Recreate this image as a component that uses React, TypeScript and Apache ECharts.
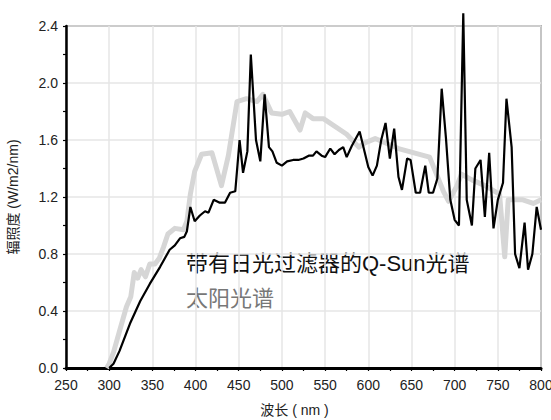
import React, { useEffect, useRef } from "react";
import * as echarts from "echarts";

const qsunWavelengths = [
  300, 305, 312, 324, 336, 347, 359, 370, 376, 382, 387, 390, 394, 399, 405, 411, 415, 421, 428, 434,
  440, 446, 451, 455, 460, 464, 470, 475, 480, 485, 489, 494, 500, 506, 513, 519, 525, 531, 536, 540,
  546, 550, 556, 561, 566, 571, 575, 581, 590, 596, 600, 605, 610, 615, 620, 625, 630, 635, 639, 645,
  649, 655, 660, 666, 670, 675, 680, 685, 690, 695, 700, 705, 710, 714, 720, 724, 730, 735, 740, 745,
  750, 756, 760, 766, 770, 775, 781, 785, 790, 795, 800,
];
const qsunValues = [
  0.0, 0.03, 0.12, 0.31, 0.47, 0.59, 0.71, 0.83, 0.86, 0.91, 0.92, 0.96, 1.13, 1.03, 1.07, 1.1, 1.09, 1.18, 1.16, 1.16,
  1.23, 1.24, 1.6, 1.37, 1.52, 2.2, 1.6, 1.45, 1.92, 1.55, 1.52, 1.44, 1.42, 1.45, 1.46, 1.46, 1.47, 1.49, 1.49, 1.52,
  1.49, 1.48, 1.54, 1.5, 1.53, 1.55, 1.48, 1.56, 1.66, 1.51, 1.41, 1.35, 1.42, 1.6, 1.72, 1.47, 1.68, 1.34, 1.25, 1.47,
  1.46, 1.23, 1.23, 1.42, 1.23, 1.23, 1.33, 1.96, 1.61, 1.18, 1.04, 1.0, 2.49, 1.18, 1.0, 1.4, 1.46, 1.06, 1.51, 0.98,
  1.18, 1.3, 1.89, 1.55, 0.8, 0.7, 1.02, 0.69, 0.8, 1.13, 0.97,
];

const sunWavelengths = [
  297, 300, 305, 312, 320, 325, 329, 333, 337, 342, 347, 353, 358, 363, 368, 376, 386, 390, 394, 399,
  407, 419, 430, 438, 448, 459, 471, 478, 488, 500, 509, 521, 527, 536, 548, 575, 589, 596, 608, 635,
  671, 687, 693, 702, 708, 720, 735, 752, 758, 762, 779, 791, 800,
];
const sunValues = [
  0.0, 0.03, 0.11, 0.26, 0.43, 0.5, 0.67, 0.63, 0.69, 0.64, 0.73, 0.73, 0.77, 0.85, 0.94, 0.98, 0.97, 1.03, 1.22, 1.38,
  1.5, 1.51, 1.28, 1.49, 1.87, 1.89, 1.87, 1.92, 1.79, 1.78, 1.8, 1.67, 1.79, 1.75, 1.75, 1.64, 1.55, 1.58, 1.61, 1.54,
  1.48, 1.24, 1.17, 1.27, 1.36, 1.32, 1.28, 1.22, 0.78, 1.18, 1.18, 1.155, 1.18,
];

const xTicks = { min: 250, max: 800, interval: 50 };
const yTicks = { min: 0, max: 2.4, interval: 0.4 };

const qsunLabel = "带有日光过滤器的Q-Sun光谱";
const sunLabel = "太阳光谱";
const xName = "波长 ( nm )";
const yName = "辐照度 (W/m2/nm)";

const LATIN = "'Liberation Sans', 'Noto Sans CJK SC', sans-serif";

export default function App() {
  const ref = useRef<HTMLDivElement>(null);
  useEffect(() => {
    if (!ref.current) return;
    const chart = echarts.init(ref.current, null, { renderer: "svg" });
    const qsun = qsunWavelengths.map((w, i) => [w, qsunValues[i]]);
    const sun = sunWavelengths.map((w, i) => [w, sunValues[i]]);
    chart.setOption({
      animation: false,
      backgroundColor: "#ffffff",
      textStyle: { fontFamily: LATIN },
      grid: {
        left: 66,
        right: 10,
        top: 26,
        bottom: 52,
        outerBoundsMode: "none",
        containLabel: false,
        show: true,
        borderColor: "#000",
        borderWidth: 1.2,
        backgroundColor: "transparent",
      },
      xAxis: {
        type: "value",
        min: xTicks.min,
        max: xTicks.max,
        interval: xTicks.interval,
        name: xName,
        nameLocation: "middle",
        nameGap: 35,
        nameTextStyle: { fontSize: 14, color: "#222", fontFamily: LATIN, padding: [0, 18, 0, 0] },
        axisLine: { show: true, onZero: false, lineStyle: { color: "#000", width: 3 } },
        axisTick: { show: true, length: 3, lineStyle: { color: "#000", width: 1.2 } },
        minorTick: { show: true, splitNumber: 2, length: 3, lineStyle: { color: "#000", width: 1.2 } },
        axisLabel: { fontSize: 14, color: "#222", margin: 10, fontFamily: LATIN, hideOverlap: false },
        splitLine: { show: true, lineStyle: { color: "#e6e6e6", width: 1.5 } },
      },
      yAxis: {
        type: "value",
        min: yTicks.min,
        max: yTicks.max,
        interval: yTicks.interval,
        name: yName,
        nameLocation: "middle",
        nameGap: 46,
        nameTextStyle: { fontSize: 14, color: "#222", fontFamily: LATIN },
        axisLine: { show: true, onZero: false, lineStyle: { color: "#000", width: 2.5 } },
        axisTick: { show: true, length: 3, lineStyle: { color: "#000", width: 1.2 } },
        minorTick: { show: true, splitNumber: 2, length: 3, lineStyle: { color: "#000", width: 1.2 } },
        axisLabel: {
          fontSize: 14,
          color: "#222",
          margin: 8,
          fontFamily: LATIN,
          formatter: (v: number) => v.toFixed(1),
        },
        splitLine: { show: true, lineStyle: { color: "#e6e6e6", width: 1.5 } },
      },
      graphic: [
        {
          type: "text",
          left: 186,
          top: 252,
          silent: true,
          style: { text: qsunLabel, fill: "#111", fontSize: 22, fontFamily: LATIN },
        },
        {
          type: "text",
          left: 186,
          top: 287,
          silent: true,
          style: { text: sunLabel, fill: "#777", fontSize: 22, fontFamily: LATIN },
        },
      ],
      series: [
        {
          name: sunLabel,
          type: "line",
          data: sun,
          showSymbol: false,
          symbol: "none",
          clip: false,
          lineStyle: { color: "#d6d6d6", width: 5, join: "round" },
          z: 2,
        },
        {
          name: qsunLabel,
          type: "line",
          data: qsun,
          showSymbol: false,
          symbol: "none",
          clip: false,
          lineStyle: { color: "#000", width: 2.2 },
          z: 3,
        },
      ],
    });
    return () => chart.dispose();
  }, []);
  return (
    <div
      ref={ref}
      style={{ position: "fixed", left: 0, top: 0, width: 551, height: 420, background: "#fff" }}
    />
  );
}
